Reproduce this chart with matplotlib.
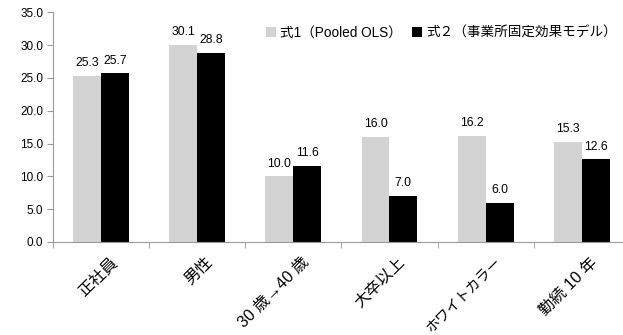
import matplotlib.pyplot as plt
import matplotlib.transforms as mtransforms
import numpy as np

plt.rcParams['font.family'] = ['Liberation Sans', 'Noto Sans CJK JP', 'DejaVu Sans']

# data
categories = ["正社員", "男性", "30 歳\u219240 歳", "大卒以上", "ホワイトカラー", "勤続 10 年"]
pooled_ols = [25.3, 30.1, 10.0, 16.0, 16.2, 15.3]
fixed_effect = [25.7, 28.8, 11.6, 7.0, 6.0, 12.6]
series_names = ["式1（Pooled OLS）", "式２（事業所固定効果モデル）"]
yticks = [0, 5, 10, 15, 20, 25, 30, 35]

fig = plt.figure(figsize=(6.23, 3.35), dpi=100)
ax = fig.add_axes([0.085, 0.278, 0.926, 0.685])

x = np.arange(len(categories))
w = 0.29
b1 = ax.bar(x - w / 2, pooled_ols, w, color="#d3d3d3", label=series_names[0])
b2 = ax.bar(x + w / 2, fixed_effect, w, color="black", label=series_names[1])

for bars, vals in ((b1, pooled_ols), (b2, fixed_effect)):
    for r, v in zip(bars, vals):
        ax.text(r.get_x() + r.get_width() / 2, v + 1.0, f"{v:.1f}",
                ha="center", va="bottom", fontsize=8.8)

ax.set_xlim(-0.5, len(categories) - 0.5)
ax.set_ylim(0, 35)
ax.set_yticks(yticks)
ax.set_yticklabels([f"{t:.1f}" for t in yticks], fontsize=8.5)
ax.set_xticks(x)
ax.set_xticklabels(categories, rotation=45, ha="right", rotation_mode="anchor",
                   fontsize=11.5, family=['Liberation Sans', 'Noto Sans CJK JP'])
ax.tick_params(axis="x", length=0, pad=9)
# shift category labels a bit right, like the original
offset = mtransforms.ScaledTranslation(8 / 100, 0, fig.dpi_scale_trans)
for lab in ax.get_xticklabels():
    lab.set_transform(lab.get_transform() + offset)
    if lab.get_text() == "ホワイトカラー":
        lab.set_fontsize(10.3)
ax.set_xticks(np.arange(len(categories) + 1) - 0.5, minor=True)
ax.tick_params(axis="x", which="minor", length=4, color="#999999")
ax.tick_params(axis="y", length=4, color="#999999", pad=3)

for s in ("top", "right"):
    ax.spines[s].set_visible(False)
ax.spines["left"].set_color("#999999")
ax.spines["bottom"].set_color("#999999")

ax.legend(loc="upper left", bbox_to_anchor=(0.36, 0.965), ncol=2, frameon=False,
          fontsize=9.8, handlelength=0.7, handleheight=0.7, handletextpad=0.3,
          columnspacing=0.8, borderaxespad=0)

fig.savefig("out.png", dpi=100)
